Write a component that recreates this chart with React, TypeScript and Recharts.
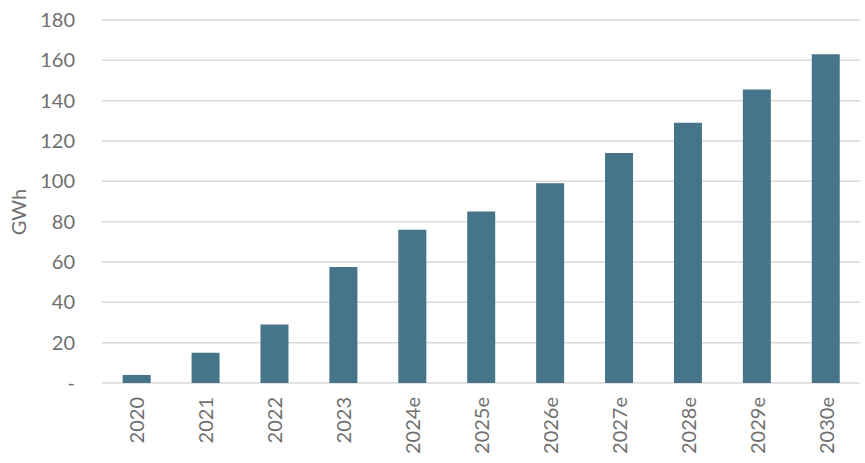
import React from 'react';
import { BarChart, Bar, XAxis, YAxis, CartesianGrid, Label } from 'recharts';

const years = ['2020', '2021', '2022', '2023', '2024e', '2025e', '2026e', '2027e', '2028e', '2029e', '2030e'];
const gwh = [4, 15, 29, 57.5, 76, 85, 99, 114, 129, 145.5, 163];
const yTicks = [0, 20, 40, 60, 80, 100, 120, 140, 160, 180];

const data = years.map((y, i) => ({ year: y, value: gwh[i] }));

const FONT = 'Lato, "Open Sans", sans-serif';
const TEXT = '#6f6f6f';

const XTick = (props: any) => {
  const { x, y, payload } = props;
  return (
    <text
      x={x}
      y={y}
      transform={`rotate(-90, ${x}, ${y})`}
      textAnchor="end"
      dominantBaseline="central"
      fill={TEXT}
      fontSize={20}
      fontFamily={FONT}
    >
      {payload.value}
    </text>
  );
};

export default function App() {
  return (
    <div style={{ position: 'absolute', left: 0, top: 0, background: '#fff' }}>
      <BarChart
        width={865}
        height={463}
        data={data}
        margin={{ top: 20, right: 5, bottom: 0, left: 0 }}
        barCategoryGap="30%"
      >
        <CartesianGrid vertical={false} stroke="#d9d9d9" strokeWidth={1.5} />
        <XAxis
          dataKey="year"
          axisLine={false}
          tickLine={false}
          interval={0}
          height={80}
          tickSize={0}
          tickMargin={14}
          tick={<XTick />}
        />
        <YAxis
          domain={[0, 180]}
          ticks={yTicks}
          width={102}
          axisLine={false}
          tickLine={false}
          tickSize={0}
          tickMargin={27}
          tickFormatter={(v: number) => (v === 0 ? '-' : String(v))}
          tick={{ fill: TEXT, fontSize: 20, fontFamily: FONT }}
        >
          <Label
            content={() => (
              <text
                x={18}
                y={212}
                transform="rotate(-90, 18, 212)"
                textAnchor="middle"
                dominantBaseline="central"
                fill={TEXT}
                fontSize={20}
                fontFamily={FONT}
              >
                GWh
              </text>
            )}
          />
        </YAxis>
        <Bar dataKey="value" fill="#467589" isAnimationActive={false} />
      </BarChart>
    </div>
  );
}
